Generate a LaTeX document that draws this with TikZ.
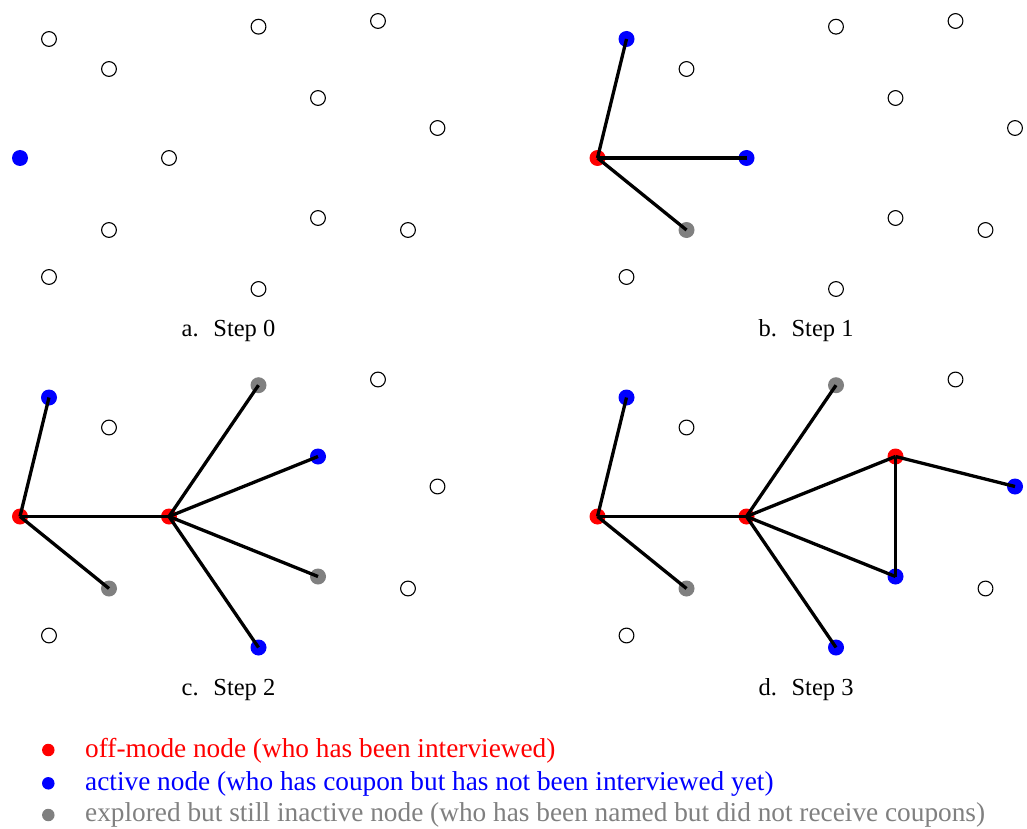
\documentclass[tikz,border=0pt]{standalone}
\usepackage{fontspec}
\setmainfont{Liberation Serif}
\begin{document}
\begin{tikzpicture}[x=1pt,y=-1pt,
  vtx/.style={circle,inner sep=0pt,minimum size=16pt},
  emptyv/.style={vtx,draw=black,line width=1.1pt,minimum size=14.8pt,fill=white},
  offv/.style={vtx,fill=red},
  actv/.style={vtx,fill=blue},
  explv/.style={vtx,fill=gray},
  link/.style={line width=3.3pt,black},
  caption/.style={font=\fontsize{24.5}{28}\selectfont,anchor=base,inner sep=0pt},
  legdot/.style={circle,inner sep=0pt,minimum size=12.5pt},
  legtext/.style={font=\fontsize{27.3}{30}\selectfont,anchor=base west,inner sep=0pt}
]
\useasboundingbox (0,0) rectangle (1027,829);

% ---- panel a ----
\begin{scope}
\foreach \i/\px/\py/\st in {1/49/39/emptyv,2/109/69/emptyv,3/258.5/26.7/emptyv,4/378/21/emptyv,5/318/98/emptyv,6/437.5/128/emptyv,7/20/158/actv,8/169/158/emptyv,9/109/230/emptyv,10/318/218/emptyv,11/408/230/emptyv,12/49/277/emptyv,13/258.5/289/emptyv}
  \node[\st] (a\i) at (\px,\py) {};
\node[caption] (capa) at (228.5,336.7) {a.\hspace{0.6em}Step 0};
\end{scope}

% ---- panel b ----
\begin{scope}[shift={(577.5,0)}]
\foreach \i/\px/\py/\st in {1/49/39/actv,2/109/69/emptyv,3/258.5/26.7/emptyv,4/378/21/emptyv,5/318/98/emptyv,6/437.5/128/emptyv,7/20/158/offv,8/169/158/actv,9/109/230/explv,10/318/218/emptyv,11/408/230/emptyv,12/49/277/emptyv,13/258.5/289/emptyv}
  \node[\st] (b\i) at (\px,\py) {};
\node[caption] (capb) at (228.5,336.7) {b.\hspace{0.6em}Step 1};
\end{scope}
\foreach \u/\v in {7/1,7/8,7/9}
  \draw[link] (b\u.center) -- (b\v.center);

% ---- panel c ----
\begin{scope}[shift={(0,358.5)}]
\foreach \i/\px/\py/\st in {1/49/39/actv,2/109/69/emptyv,3/258.5/26.7/explv,4/378/21/emptyv,5/318/98/actv,6/437.5/128/emptyv,7/20/158/offv,8/169/158/offv,9/109/230/explv,10/318/218/explv,11/408/230/emptyv,12/49/277/emptyv,13/258.5/289/actv}
  \node[\st] (c\i) at (\px,\py) {};
\node[caption] (capc) at (228.5,336.7) {c.\hspace{0.6em}Step 2};
\end{scope}
\foreach \u/\v in {7/1,7/8,7/9,8/3,8/5,8/10,8/13}
  \draw[link] (c\u.center) -- (c\v.center);

% ---- panel d ----
\begin{scope}[shift={(577.5,358.5)}]
\foreach \i/\px/\py/\st in {1/49/39/actv,2/109/69/emptyv,3/258.5/26.7/explv,4/378/21/emptyv,5/318/98/offv,6/437.5/128/actv,7/20/158/offv,8/169/158/offv,9/109/230/explv,10/318/218/actv,11/408/230/emptyv,12/49/277/emptyv,13/258.5/289/actv}
  \node[\st] (d\i) at (\px,\py) {};
\node[caption] (capd) at (228.5,336.7) {d.\hspace{0.6em}Step 3};
\end{scope}
\foreach \u/\v in {7/1,7/8,7/9,8/3,8/5,8/10,8/13,5/6,5/10}
  \draw[link] (d\u.center) -- (d\v.center);

% ---- legend ----
\node[legdot,fill=red] (ld1) at (48.3,750) {};
\node[legdot,fill=blue] (ld2) at (48.3,783.3) {};
\node[legdot,fill=gray] (ld3) at (48.3,815) {};
\node[legtext,text=red] (lt1) at (85,757.7) {off-mode node (who has been interviewed)};
\node[legtext,text=blue] (lt2) at (85,790) {active node (who has coupon but has not been interviewed yet)};
\node[legtext,text=gray] (lt3) at (85,821.7) {explored but still inactive node (who has been named but did not receive coupons)};
\end{tikzpicture}
\end{document}
